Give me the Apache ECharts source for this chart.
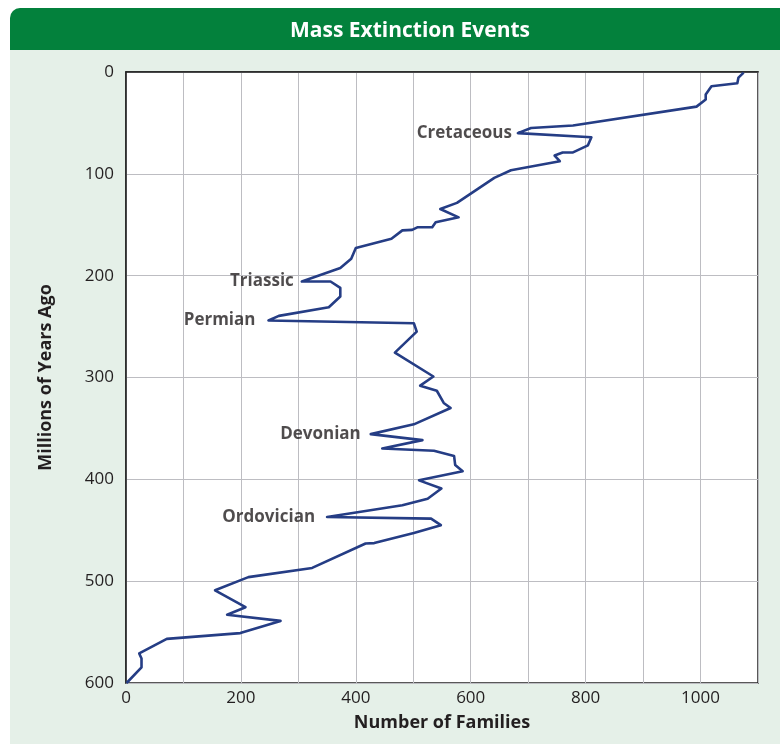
<!DOCTYPE html>
<html>
<head>
<meta charset="utf-8">
<script src="https://cdn.jsdelivr.net/npm/echarts@6/dist/echarts.min.js"></script>
<style>
  html, body { margin: 0; padding: 0; background: #fff; }
  #chart-container { width: 780px; height: 744px; }
</style>
</head>
<body>
<div id="chart-container"></div>
<script>
// number of families (top to bottom)
var families = [1075, 1066, 1064, 1019, 1009, 1009, 993, 778, 705, 682, 810, 804, 778, 760, 746, 755,
    670, 641, 576, 547, 579, 539, 533, 513, 507, 498, 481, 462, 400, 392, 373, 306,
    356, 373, 373, 353, 266, 248, 501, 506, 468, 535, 512, 541, 553, 565, 501, 426,
    516, 446, 536, 571, 573, 586, 510, 549, 525, 481, 350, 531, 548, 501, 432, 417,
    324, 213, 155, 208, 176, 269, 199, 71, 23, 27, 27, 1];
// millions of years ago for each point
var yearsAgo = [0.6, 5.5, 11, 14, 22, 27, 34, 52.5, 55, 60, 64, 72, 79, 79, 82, 87.6,
    96.5, 104, 128.5, 134.5, 142.7, 147.6, 152.5, 152.5, 152.5, 155, 155.5, 163.7, 172.8, 183.4, 192.5, 205.7,
    205.7, 212, 220.5, 231, 239.5, 244, 246.7, 255, 275.6, 299, 308, 313, 325, 330, 346, 355.6,
    361.5, 369.7, 372, 377, 386, 392, 401, 409, 419, 425.5, 437, 438.6, 445, 452.7, 462.6, 463,
    487, 496, 509, 525.6, 533, 539, 551, 556.7, 571, 576, 584.6, 600];

// event labels and the curve tips they point at
var eventNames = ['Cretaceous', 'Triassic', 'Permian', 'Devonian', 'Ordovician'];
var eventFamilies = [682, 306, 248, 426, 350];
var eventYears = [60, 205.7, 244, 355.6, 437];
var eventGap = [6, 8, 13, 10, 12];

var xTicks = [0, 200, 400, 600, 800, 1000];

var chartDom = document.getElementById('chart-container');
var myChart = echarts.init(chartDom, null, {renderer: 'canvas'});

var lineData = families.map(function (f, i) { return [f, yearsAgo[i]]; });
var eventData = eventNames.map(function (n, i) {
    return {
        value: [eventFamilies[i], eventYears[i]],
        label: {distance: eventGap[i]}
    };
});

var font = '"Open Sans", "Noto Sans", sans-serif';
var textColor = '#231f20';

var option = {
    backgroundColor: '#fff',
    animation: false,
    graphic: [
        {
            type: 'rect', z: -10, silent: true,
            shape: {x: 10, y: 8, width: 770, height: 736, r: [10, 0, 0, 0]},
            style: {fill: '#e5f0e8'}
        },
        {
            type: 'rect', z: -9, silent: true,
            shape: {x: 10, y: 8, width: 770, height: 42, r: [10, 0, 0, 0]},
            style: {fill: '#03813c'}
        }
    ],
    title: {
        text: 'Mass Extinction Events',
        left: 405, top: 16, textAlign: 'center',
        textStyle: {color: '#fff', fontSize: 21, fontWeight: 'bold', fontFamily: font}
    },
    grid: {
        left: 126, right: 22, top: 72, bottom: 61,
        show: true, backgroundColor: '#fff', borderColor: '#222', borderWidth: 1.5
    },
    xAxis: {
        type: 'value', min: 0, max: 1100, interval: 100,
        name: 'Number of Families', nameLocation: 'middle', nameGap: 31,
        nameTextStyle: {color: textColor, fontSize: 18, fontWeight: 'bold', fontFamily: font},
        axisLine: {show: true, lineStyle: {color: '#222', width: 1.5}},
        axisTick: {show: false},
        axisLabel: {
            margin: 7, color: textColor, fontSize: 17, fontFamily: font,
            formatter: function (v) { return xTicks.indexOf(v) >= 0 ? String(v) : ''; }
        },
        splitLine: {show: true, lineStyle: {color: '#bdbdc2', width: 1}}
    },
    yAxis: {
        type: 'value', inverse: true, min: 0, max: 600, interval: 100,
        name: 'Millions of Years Ago', nameLocation: 'middle', nameGap: 71,
        nameTextStyle: {color: textColor, fontSize: 18, fontWeight: 'bold', fontFamily: font},
        axisLine: {show: true, lineStyle: {color: '#222', width: 1.5}},
        axisTick: {show: false},
        axisLabel: {margin: 12, color: textColor, fontSize: 17, fontFamily: font},
        splitLine: {show: true, lineStyle: {color: '#bdbdc2', width: 1}}
    },
    series: [
        {
            type: 'line',
            data: lineData,
            symbol: 'none',
            lineStyle: {color: '#253d85', width: 2.6, join: 'round'},
            z: 3
        },
        {
            type: 'scatter',
            data: eventData,
            symbolSize: 0,
            label: {
                show: true, position: 'left',
                formatter: function (p) { return eventNames[p.dataIndex]; },
                color: textColor, fontSize: 17, fontWeight: 'bold', fontFamily: font
            },
            z: 4
        }
    ]
};

option && myChart.setOption(option);
</script>
</body>
</html>
